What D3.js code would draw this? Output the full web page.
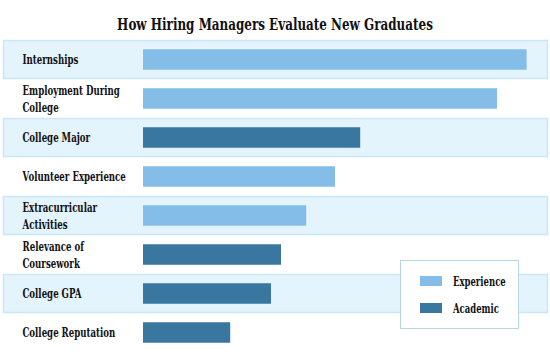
<!DOCTYPE html>
<html><head><meta charset="utf-8">
<script src="https://cdn.jsdelivr.net/npm/d3@7"></script>
<style>
html,body{margin:0;padding:0;background:#fff;}
svg text{font-family:"DejaVu Serif",serif;fill:#111;}
</style></head><body>
<svg id="chart" width="550" height="355"></svg>
<script>
const categories = ["Internships","Employment During College","College Major","Volunteer Experience","Extracurricular Activities","Relevance of Coursework","College GPA","College Reputation"];
const labelLines = [["Internships"],["Employment During","College"],["College Major"],["Volunteer Experience"],["Extracurricular","Activities"],["Relevance of","Coursework"],["College GPA"],["College Reputation"]];
const groups = ["Experience","Experience","Academic","Experience","Experience","Academic","Academic","Academic"];
const values = [95.9, 88.5, 54.3, 48.0, 40.8, 34.5, 32.0, 21.8];
const legendItems = ["Experience","Academic"];
const colors = {Experience:"#85bde9", Academic:"#3a77a0"};

const svg = d3.select("#chart");
const y = d3.scaleBand().domain(categories).range([40,352]).paddingInner(0).paddingOuter(0);
const x = d3.scaleLinear().domain([0,100]).range([143,543]);

function ctext(parent, tx, ty, str, size, sx, anchor, weight){
  return parent.append("text")
    .attr("transform",`translate(${tx},${ty}) scale(${sx},1)`)
    .attr("text-anchor",anchor||"start")
    .style("font-size",size+"px").style("font-weight",weight||"bold")
    .text(str);
}

ctext(svg, 275, 30, "How Hiring Managers Evaluate New Graduates", 17.5, 0.683, "middle");

const rows = svg.selectAll("g.row").data(categories).join("g").attr("class","row");
rows.filter((d,i)=>i%2===0).append("rect")
  .attr("x",3.5).attr("y",d=>y(d)+0.5).attr("width",544).attr("height",y.bandwidth()-1)
  .attr("fill","#e3f4fc").attr("stroke","#cbe6f6").attr("stroke-width",1.5);

const barH = 20.5;
rows.append("rect")
  .attr("x",x(0)).attr("y",d=>y(d)+y.bandwidth()/2-barH/2)
  .attr("width",(d,i)=>x(values[i])-x(0)).attr("height",barH)
  .attr("fill",(d,i)=>colors[groups[i]]);

rows.each(function(d,i){
  const g = d3.select(this);
  const lines = labelLines[i];
  const cy = y(d)+y.bandwidth()/2;
  const lh = 17;
  lines.forEach((ln,j)=>{
    ctext(g, 22.5, cy+(j-(lines.length-1)/2)*lh+4.5, ln, 12.5, 0.69);
  });
});

const lg = svg.append("g");
lg.append("rect").attr("x",400.5).attr("y",260.5).attr("width",118).attr("height",68)
  .attr("fill","#fff").attr("stroke","#b9d5e8").attr("stroke-width",1);
legendItems.forEach((k,i)=>{
  const yy = 276 + i*27;
  lg.append("rect").attr("x",420).attr("y",yy).attr("width",22).attr("height",10).attr("fill",colors[k]);
  ctext(lg, 453, yy+9.5, k, 12.5, 0.68);
});
</script></body></html>
